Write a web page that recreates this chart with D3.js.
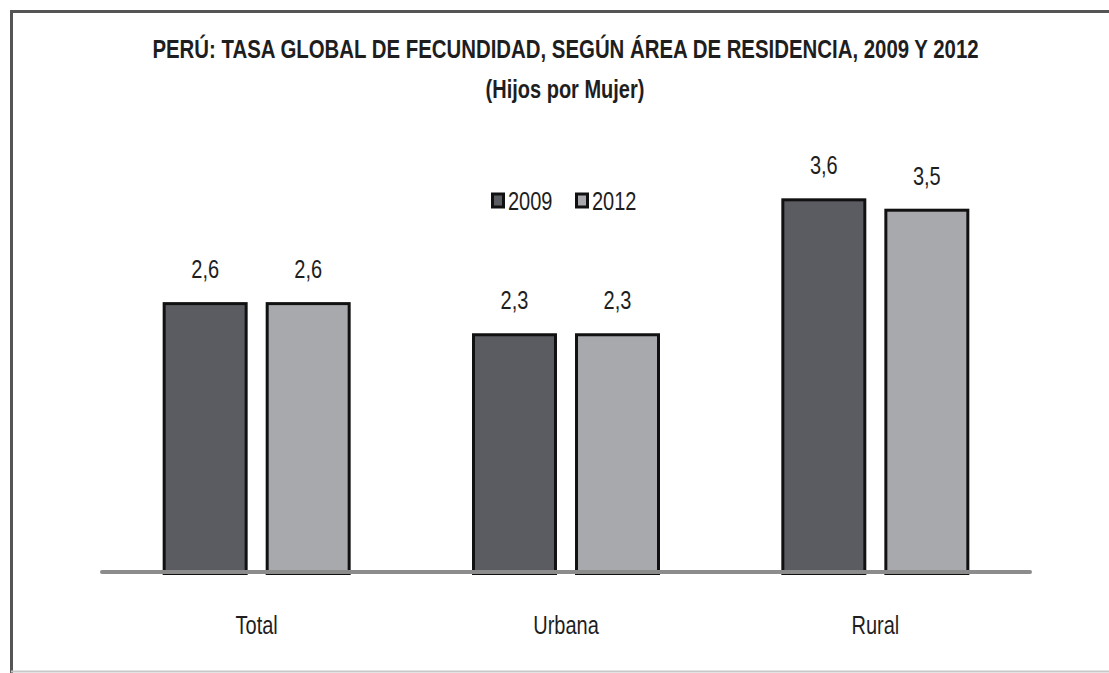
<!DOCTYPE html>
<html>
<head>
<meta charset="utf-8">
<script src="https://cdn.jsdelivr.net/npm/d3@7"></script>
<style>
  body { margin: 0; background: #fff; }
  svg { display: block; }
  text { font-family: "Liberation Sans", Arial, sans-serif; fill: #1e1e1e; }
</style>
</head>
<body>
<div id="wrapper"></div>
<script>
  // data
  const categories = ["Total", "Urbana", "Rural"]
  const years = ["2009", "2012"]
  const values2009 = [2.6, 2.3, 3.6]
  const values2012 = [2.6, 2.3, 3.5]
  const title = "PERÚ: TASA GLOBAL DE FECUNDIDAD, SEGÚN ÁREA DE RESIDENCIA, 2009 Y 2012"
  const subtitle = "(Hijos por Mujer)"

  const colors = { "2009": "#5b5c61", "2012": "#a8a9ad" }

  const dataset = categories.map((c, i) => ({
    category: c,
    values: [
      { year: "2009", value: values2009[i] },
      { year: "2012", value: values2012[i] },
    ]
  }))

  const width = 1109
  const height = 673
  const baseline = 572
  const narrow = 0.8 // no Arial Narrow here, squeeze the text instead

  const wrapper = d3.select("#wrapper")
    .append("svg")
      .attr("width", width)
      .attr("height", height)

  // narrow text helper
  const narrowText = (sel, x, y, k = narrow) => sel
      .attr("transform", (d, i) => `translate(${typeof x === "function" ? x(d, i) : x},${typeof y === "function" ? y(d, i) : y}) scale(${k},1)`)

  // frame
  wrapper.append("path")
      .attr("d", `M11.5,${height} V11.5 H${width}`)
      .attr("fill", "none")
      .attr("stroke", "#555")
      .attr("stroke-width", 3)
  wrapper.append("line")
      .attr("x1", 11).attr("x2", width)
      .attr("y1", 671.5).attr("y2", 671.5)
      .attr("stroke", "#c8c8c8")
      .attr("stroke-width", 2)

  // scales
  const xScale = d3.scaleBand()
    .domain(categories)
    .range([102, 1030])

  const xSub = d3.scaleBand()
    .domain(years)
    .range([(xScale.bandwidth() - 188) / 2, (xScale.bandwidth() + 188) / 2])
    .paddingInner(0.175)

  const yScale = d3.scaleLinear()
    .domain([0, 4])
    .range([baseline, baseline - 4 * 103.8])

  // bars
  const groups = wrapper.selectAll("g.group")
    .data(dataset)
    .enter().append("g")
      .attr("class", "group")
      .attr("transform", d => `translate(${xScale(d.category)},0)`)

  groups.selectAll("rect")
    .data(d => d.values)
    .enter().append("rect")
      .attr("x", d => xSub(d.year) + 1.5)
      .attr("y", d => yScale(d.value) + 1.5)
      .attr("width", xSub.bandwidth() - 3)
      .attr("height", d => baseline - yScale(d.value))
      .attr("fill", d => colors[d.year])
      .attr("stroke", "#111")
      .attr("stroke-width", 3)

  groups.selectAll("text.value")
    .data(d => d.values)
    .enter().append("text")
      .attr("class", "value")
      .call(narrowText, d => xSub(d.year) + xSub.bandwidth() / 2, d => yScale(d.value) - 24)
      .attr("text-anchor", "middle")
      .style("font-size", "25px")
      .text(d => d3.format(".1f")(d.value).replace(".", ","))

  // baseline
  wrapper.append("line")
      .attr("x1", 102).attr("x2", 1030)
      .attr("y1", baseline).attr("y2", baseline)
      .attr("stroke", "#8c8c8c")
      .attr("stroke-width", 4)
      .attr("stroke-linecap", "round")

  // category labels
  wrapper.selectAll("text.cat")
    .data(categories)
    .enter().append("text")
      .attr("class", "cat")
      .call(narrowText, d => xScale(d) + xScale.bandwidth() / 2, 634)
      .attr("text-anchor", "middle")
      .style("font-size", "25px")
      .text(d => d)

  // title, squeezed to the width it has in the original
  const titleText = wrapper.append("text")
      .attr("text-anchor", "middle")
      .style("font-size", "25px")
      .style("font-weight", "bold")
      .text(title)
  const titleK = 827 / titleText.node().getComputedTextLength()
  titleText.call(narrowText, 565.5, 58, titleK)

  wrapper.append("text")
      .call(narrowText, 565, 98)
      .attr("text-anchor", "middle")
      .style("font-size", "25px")
      .style("font-weight", "bold")
      .text(subtitle)

  // legend
  const legend = wrapper.append("g")
  const legendX = { "2009": 491, "2012": 575 }
  years.forEach(y => {
    legend.append("rect")
        .attr("x", legendX[y] + 1.5)
        .attr("y", 194)
        .attr("width", 11)
        .attr("height", 13)
        .attr("fill", colors[y])
        .attr("stroke", "#111")
        .attr("stroke-width", 3)
    legend.append("text")
        .call(narrowText, legendX[y] + 17, 210)
        .style("font-size", "25px")
        .text(y)
  })
</script>
</body>
</html>
